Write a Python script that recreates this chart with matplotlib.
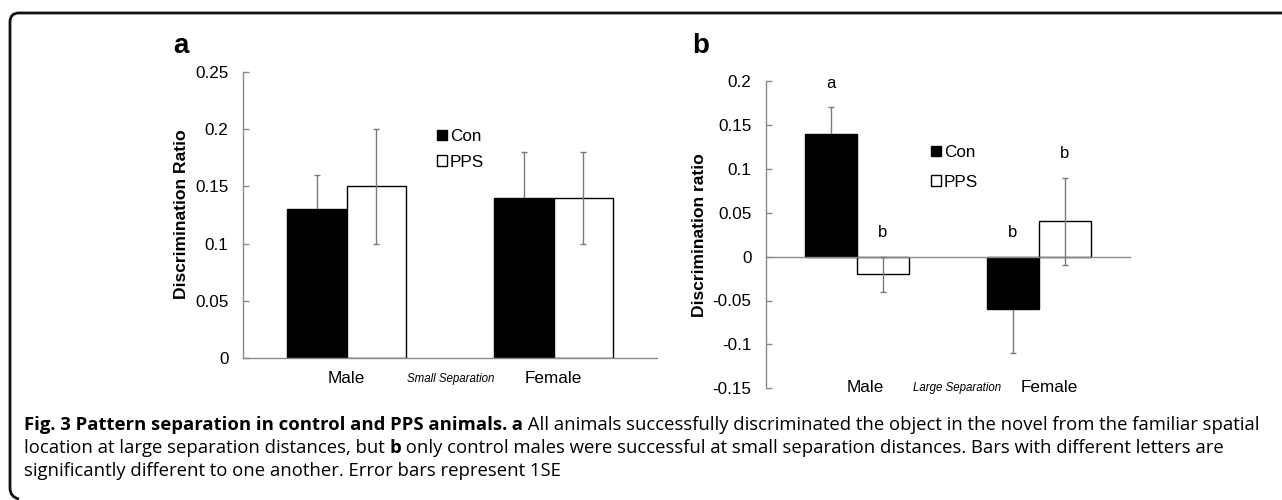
import matplotlib
matplotlib.use('Agg')
import matplotlib.pyplot as plt
from matplotlib.path import Path
from matplotlib.patches import PathPatch, Patch
from matplotlib.transforms import Affine2D
import numpy as np

# ---------------- data ----------------
categories = ['Male', 'Female']
series = ['Con', 'PPS']
a_con = [0.13, 0.14]
a_con_err = [0.03, 0.04]
a_pps = [0.15, 0.14]
a_pps_err = [0.05, 0.04]
b_con = [0.14, -0.06]
b_con_err = [0.03, 0.05]
b_pps = [-0.02, 0.04]
b_pps_err = [0.02, 0.05]
b_letters_con = ['a', 'b']
b_letters_pps = ['b', 'b']
a_yticks = [0, 0.05, 0.1, 0.15, 0.2, 0.25]
a_yticklabels = ['0', '0.05', '0.1', '0.15', '0.2', '0.25']
b_yticks = [-0.15, -0.1, -0.05, 0, 0.05, 0.1, 0.15, 0.2]
b_yticklabels = ['-0.15', '-0.1', '-0.05', '0', '0.05', '0.1', '0.15', '0.2']
a_xnote = 'Small Separation'
b_xnote = 'Large Separation'

plt.rcParams['font.family'] = ['Liberation Sans', 'DejaVu Sans']

W, H = 1282, 500
fig = plt.figure(figsize=(W / 100, H / 100), dpi=100)
PX = Affine2D().scale(1.0 / W, -1.0 / H).translate(0, 1) + fig.transFigure

def add_ax(left, top, right, bottom):
    return fig.add_axes([left / W, 1 - bottom / H, (right - left) / W, (bottom - top) / H])

GRAY = '#8a8a8a'
ERRC = '#7a7a7a'
BW = 0.286
x = np.arange(len(categories))
TICKFS = 12.3
LABFS = 12.3

def style_axis(ax, yticks, ylabels, ylim):
    ax.set_xlim(-0.5, len(categories) - 0.5)
    ax.set_ylim(*ylim)
    ax.set_yticks(yticks)
    ax.set_yticklabels(ylabels, fontsize=TICKFS)
    ax.set_xticks([])
    for s in ['top', 'right']:
        ax.spines[s].set_visible(False)
    for s in ['left', 'bottom']:
        ax.spines[s].set_color(GRAY)
        ax.spines[s].set_linewidth(1.0)
    ax.tick_params(axis='y', direction='in', length=4, width=1, color=GRAY, pad=10.5)
    ax.patch.set_alpha(0)

def draw_bars(ax, con, con_err, pps, pps_err):
    ax.bar(x - BW / 2, con, BW, color='black', edgecolor='black', linewidth=1, zorder=2)
    ax.bar(x + BW / 2, pps, BW, color='white', edgecolor='black', linewidth=1, zorder=2)
    ax.errorbar(x - BW / 2, con, yerr=con_err, fmt='none', ecolor=ERRC, elinewidth=1,
                capsize=2.5, capthick=1, zorder=1)
    ax.errorbar(x + BW / 2, pps, yerr=pps_err, fmt='none', ecolor=ERRC, elinewidth=1,
                capsize=2.5, capthick=1, zorder=3)

def legend(ax, ax_x, ax_y, spacing):
    handles = [Patch(facecolor='black', edgecolor='black'),
               Patch(facecolor='white', edgecolor='black')]
    ax.legend(handles, series, loc='upper left', bbox_to_anchor=(ax_x, ax_y),
              bbox_transform=PX, frameon=False, fontsize=LABFS, handlelength=0.6,
              handleheight=0.6, handletextpad=0.15, labelspacing=spacing, borderpad=0,
              borderaxespad=0)

# ---------------- panel a ----------------
axa = add_ax(243, 71.7, 657, 358.3)
draw_bars(axa, a_con, a_con_err, a_pps, a_pps_err)
style_axis(axa, a_yticks, a_yticklabels, (0, 0.25))
for xi, c in zip(x, categories):
    axa.text(xi, -0.072, c, transform=axa.get_xaxis_transform(), ha='center', va='center', fontsize=LABFS)
axa.text(0.502, -0.072, a_xnote, transform=axa.get_xaxis_transform(), ha='center', va='center',
         fontsize=8.3, style='italic')
legend(axa, 437, 129, 0.62)
fig.text(181, 214, 'Discrimination Ratio', transform=PX, rotation=90, ha='center', va='center',
         fontsize=12.6, fontweight='bold')
fig.text(173, 53, 'a', transform=PX, ha='left', va='baseline', fontsize=20, fontweight='bold')

# ---------------- panel b ----------------
axb = add_ax(766, 81, 1130, 388.3)
draw_bars(axb, b_con, b_con_err, b_pps, b_pps_err)
style_axis(axb, b_yticks, b_yticklabels, (-0.15, 0.2))
axb.spines['bottom'].set_position(('data', 0))
axb.text(0.044, -0.1495, categories[0], ha='center', va='center', fontsize=LABFS)
axb.text(1.055, -0.1495, categories[1], ha='center', va='center', fontsize=LABFS)
axb.text(0.55, -0.1495, b_xnote, ha='center', va='center', fontsize=8.3, style='italic')
for xi, v, e, l in zip(x - BW / 2, b_con, b_con_err, b_letters_con):
    axb.text(xi, max(v + e, 0) + 0.027, l, ha='center', va='center', fontsize=12)
for xi, v, e, l in zip(x + BW / 2, b_pps, b_pps_err, b_letters_pps):
    axb.text(xi, max(v + e, 0) + 0.027, l, ha='center', va='center', fontsize=12)
legend(axb, 931, 145, 0.85)
fig.text(700, 235, 'Discrimination ratio', transform=PX, rotation=90, ha='center', va='center',
         fontsize=12.6, fontweight='bold')
fig.text(692, 53, 'b', transform=PX, ha='left', va='baseline', fontsize=20, fontweight='bold')

# ---------------- frame ----------------
r = 9
verts = [(W + 5, 13), (10 + r, 13), (10, 13), (10, 13 + r), (10, 497 - r), (10, 497), (10 + r, 499)]
codes = [Path.MOVETO, Path.LINETO, Path.CURVE3, Path.CURVE3, Path.LINETO, Path.CURVE3, Path.CURVE3]
fig.add_artist(PathPatch(Path(verts, codes), transform=PX, fill=False, lw=2.0, edgecolor='#111111'))

# ---------------- caption ----------------
cap_font = ['Open Sans', 'DejaVu Sans']
cap_lines = [
    [('Fig. 3 Pattern separation in control and PPS animals.', 'bold'), (' a', 'bold'),
     (' All animals successfully discriminated the object in the novel from the familiar spatial', 'normal')],
    [('location at large separation distances, but ', 'normal'), ('b', 'bold'),
     (' only control males were successful at small separation distances. Bars with different letters are', 'normal')],
    [('significantly different to one another. Error bars represent 1SE', 'normal')],
]
cap_y = [430, 453, 476]
fig.canvas.draw()
renderer = fig.canvas.get_renderer()
for line, yb in zip(cap_lines, cap_y):
    xc = 24
    for txt, wt in line:
        t = fig.text(xc, yb, txt, transform=PX, ha='left', va='baseline', fontsize=13.3,
                     fontweight=wt, family=cap_font)
        bb = t.get_window_extent(renderer)
        xc += bb.width

fig.savefig('out.png', dpi=100)
